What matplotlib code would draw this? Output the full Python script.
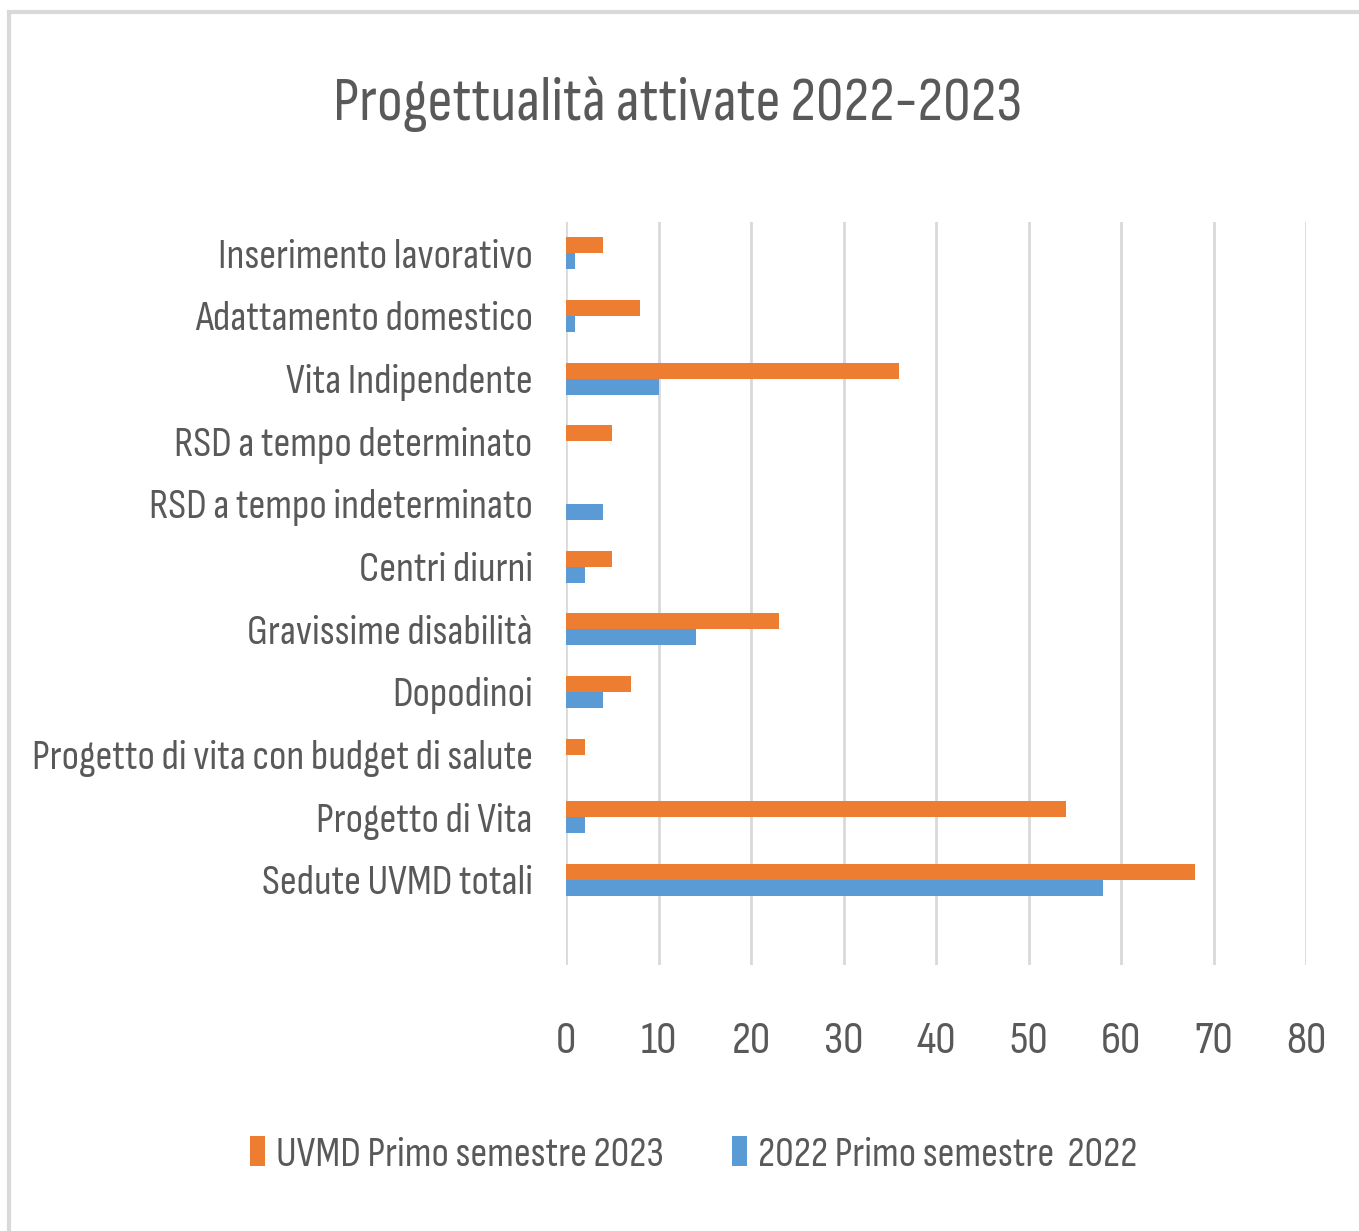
import matplotlib
matplotlib.use("Agg")
import matplotlib.pyplot as plt
from matplotlib.patches import Rectangle
import numpy as np

categories = [
    "Inserimento lavorativo",
    "Adattamento domestico",
    "Vita Indipendente",
    "RSD a tempo determinato",
    "RSD a tempo indeterminato",
    "Centri diurni",
    "Gravissime disabilità",
    "Dopodinoi",
    "Progetto di vita con budget di salute",
    "Progetto di Vita",
    "Sedute UVMD totali",
]
uvmd_2023 = [4, 8, 36, 5, 0, 5, 23, 7, 2, 54, 68]
sem_2022 = [1, 1, 10, 0, 4, 2, 14, 4, 0, 2, 58]
series_names = ["UVMD Primo semestre 2023", "2022 Primo semestre  2022"]
xticks = [0, 10, 20, 30, 40, 50, 60, 70, 80]
title = "Progettualità attivate 2022-2023"

ORANGE = "#ED7D31"
BLUE = "#5B9BD5"
TXT = "#595959"
FONT = ["Sofia Sans Condensed", "DejaVu Sans"]
plt.rcParams["font.family"] = FONT

W, H = 1359, 1231
fig = plt.figure(figsize=(W / 100, H / 100), dpi=100)
fig.patch.set_facecolor("white")

# outer chart border
fig.patches.append(Rectangle((9 / W, -0.01), 1.1, 1 - 12 / H + 0.01,
                             transform=fig.transFigure, fill=False,
                             edgecolor="#d9d9d9", linewidth=3))

ax = fig.add_axes([566 / W, 1 - 965 / H, (1306 - 566) / W, (965 - 222) / H])
y = np.arange(len(categories))
bh = 0.255
ax.barh(y - bh / 2, uvmd_2023, height=bh, color=ORANGE, label=series_names[0], zorder=3)
ax.barh(y + bh / 2, sem_2022, height=bh, color=BLUE, label=series_names[1], zorder=3)

ax.set_ylim(11.36, -0.5)
ax.set_xlim(0, 80)
ax.set_xticks(xticks)
ax.set_yticks(y)
ax.set_yticklabels(categories)
ax.grid(axis="x", color="#d9d9d9", linewidth=2, zorder=0)
for s in ax.spines.values():
    s.set_visible(False)
ax.tick_params(axis="both", length=0, colors=TXT)
ax.tick_params(axis="y", labelsize=30, pad=24)
ax.tick_params(axis="x", labelsize=33, pad=40)

fig.text(678 / W, 1 - 104 / H, title, ha="center", va="center",
         fontsize=44.7, color=TXT)

leg = fig.legend(loc="center", bbox_to_anchor=(694 / W, 1 - 1155 / H),
                 ncol=2, frameon=False, fontsize=30, handlelength=0.36,
                 handleheight=0.7, handletextpad=0.27, columnspacing=1.63)
for t in leg.get_texts():
    t.set_color(TXT)

fig.savefig("out.png", dpi=100, facecolor="white")
